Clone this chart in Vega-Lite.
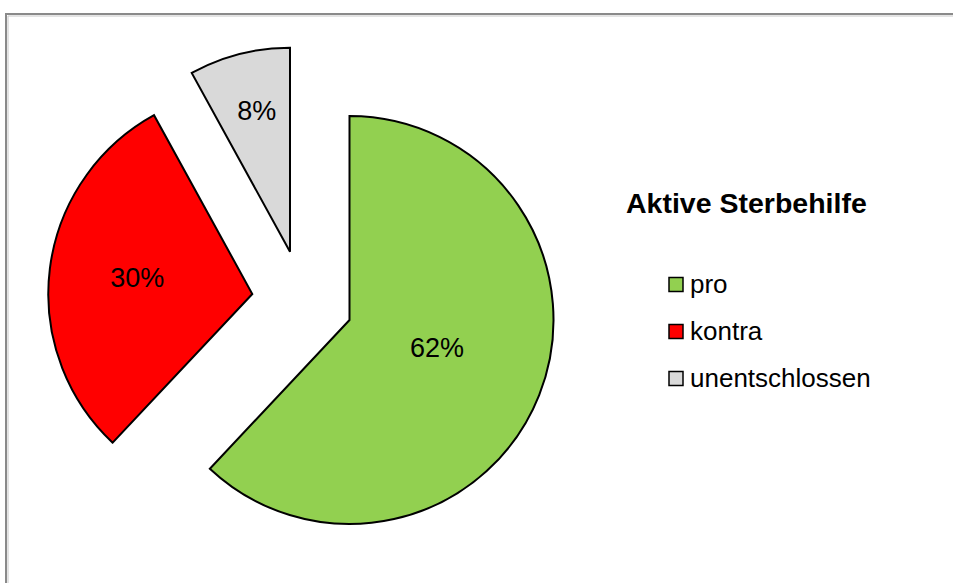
{
  "$schema": "https://vega.github.io/schema/vega-lite/v6.json",
  "width": 947,
  "height": 570,
  "autosize": {"type": "none"},
  "padding": {"left": 6, "top": 13, "right": 0, "bottom": 0},
  "background": "white",
  "config": {"view": {"stroke": null}, "font": "Liberation Sans"},
  "data": {
    "values": [
      {"cat": "pro", "value": 62, "label": "62%", "o": 1},
      {"cat": "kontra", "value": 30, "label": "30%", "o": 2},
      {"cat": "unentschlossen", "value": 8, "label": "8%", "o": 3}
    ]
  },
  "layer": [
    {
      "data": {"values": [{}]},
      "mark": {"type": "rect", "fill": null, "stroke": "#c8c8c8", "strokeWidth": 1},
      "encoding": {
        "x": {"value": 2}, "x2": {"value": 1000},
        "y": {"value": 3}, "y2": {"value": 1000}
      }
    },
    {
      "data": {"values": [{}]},
      "mark": {"type": "rect", "fill": null, "stroke": "#8a8a8a", "strokeWidth": 2},
      "encoding": {
        "x": {"value": 0}, "x2": {"value": 1000},
        "y": {"value": 1}, "y2": {"value": 1000}
      }
    },
    {
      "mark": {"type": "arc", "outerRadius": 204, "x": 343.5, "y": 307, "stroke": "black", "strokeWidth": 2},
      "encoding": {
        "theta": {"field": "value", "type": "quantitative", "stack": true},
        "order": {"field": "o", "type": "quantitative"},
        "color": {
          "field": "cat", "type": "nominal",
          "scale": {"domain": ["pro", "kontra", "unentschlossen"], "range": ["#92D050", "#FF0000", "#D9D9D9"]},
          "legend": {
            "title": "Aktive Sterbehilfe", "orient": "none", "legendX": 620, "legendY": 177,
            "titleFontSize": 28.5, "titleFontWeight": "bold", "titleColor": "black", "titleFont": "Liberation Sans",
            "titleLimit": 400, "titlePadding": 53, "labelFontSize": 26, "labelColor": "black", "labelFont": "Liberation Sans",
            "labelLimit": 400, "symbolType": "square", "symbolSize": 196, "symbolStrokeColor": "black", "symbolStrokeWidth": 1.5,
            "symbolOffset": 37, "labelOffset": 1, "rowPadding": 21, "symbolOpacity": 1
          }
        },
        "opacity": {"condition": {"test": "datum.cat === 'pro'", "value": 1}, "value": 0}
      }
    },
    {
      "mark": {"type": "arc", "outerRadius": 204, "x": 246.3, "y": 281, "stroke": "black", "strokeWidth": 2},
      "encoding": {
        "theta": {"field": "value", "type": "quantitative", "stack": true},
        "order": {"field": "o", "type": "quantitative"},
        "color": {"field": "cat", "type": "nominal"},
        "opacity": {"condition": {"test": "datum.cat === 'kontra'", "value": 1}, "value": 0}
      }
    },
    {
      "mark": {"type": "arc", "outerRadius": 204, "x": 284, "y": 238.7, "stroke": "black", "strokeWidth": 2},
      "encoding": {
        "theta": {"field": "value", "type": "quantitative", "stack": true},
        "order": {"field": "o", "type": "quantitative"},
        "color": {"field": "cat", "type": "nominal"},
        "opacity": {"condition": {"test": "datum.cat === 'unentschlossen'", "value": 1}, "value": 0}
      }
    },
    {
      "mark": {"type": "text", "x": 343.5, "y": 307, "radius": 92, "dx": 2, "dy": -5, "fontSize": 27, "color": "black", "font": "Liberation Sans"},
      "encoding": {
        "theta": {"field": "value", "type": "quantitative", "stack": true},
        "order": {"field": "o", "type": "quantitative"},
        "detail": {"field": "cat"},
        "text": {"field": "label"},
        "opacity": {"condition": {"test": "datum.cat === 'pro'", "value": 1}, "value": 0}
      }
    },
    {
      "mark": {"type": "text", "x": 246.3, "y": 281, "radius": 116, "fontSize": 27, "color": "black", "font": "Liberation Sans"},
      "encoding": {
        "theta": {"field": "value", "type": "quantitative", "stack": true},
        "order": {"field": "o", "type": "quantitative"},
        "detail": {"field": "cat"},
        "text": {"field": "label"},
        "opacity": {"condition": {"test": "datum.cat === 'kontra'", "value": 1}, "value": 0}
      }
    },
    {
      "mark": {"type": "text", "x": 284, "y": 238.7, "radius": 146, "dx": 3, "dy": 2, "fontSize": 27, "color": "black", "font": "Liberation Sans"},
      "encoding": {
        "theta": {"field": "value", "type": "quantitative", "stack": true},
        "order": {"field": "o", "type": "quantitative"},
        "detail": {"field": "cat"},
        "text": {"field": "label"},
        "opacity": {"condition": {"test": "datum.cat === 'unentschlossen'", "value": 1}, "value": 0}
      }
    }
  ]
}
